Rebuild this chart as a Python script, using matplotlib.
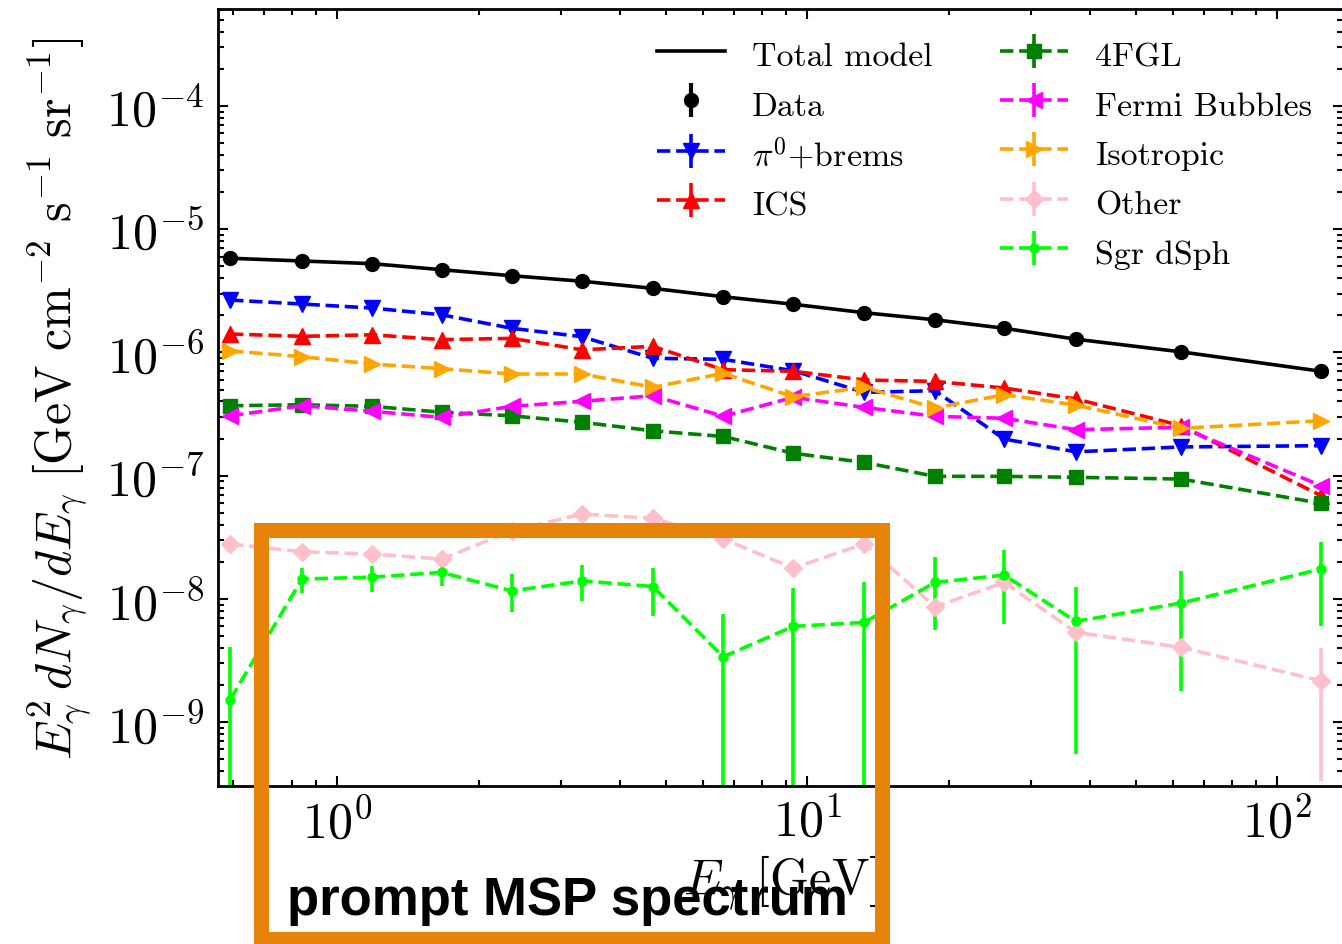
import matplotlib
matplotlib.use('Agg')
import matplotlib.pyplot as plt
import numpy as np
from matplotlib.ticker import LogLocator, NullFormatter
from matplotlib.patches import Rectangle
from matplotlib.lines import Line2D

plt.rcParams['font.family'] = 'serif'
plt.rcParams['font.serif'] = ['cmr10']
plt.rcParams['mathtext.fontset'] = 'cm'
plt.rcParams['axes.unicode_minus'] = False
plt.rcParams['axes.formatter.use_mathtext'] = True

# energy bins [GeV]
energy = [0.592, 0.842, 1.187, 1.668, 2.352, 3.322, 4.696, 6.628, 9.338,
          13.22, 18.70, 26.25, 37.30, 62.48, 124.0]

# E^2 dN/dE [GeV cm^-2 s^-1 sr^-1]
total = [5.81e-6, 5.52e-6, 5.25e-6, 4.69e-6, 4.19e-6, 3.78e-6, 3.31e-6, 2.83e-6,
         2.46e-6, 2.10e-6, 1.84e-6, 1.57e-6, 1.28e-6, 1.01e-6, 7.03e-7]
data = [5.81e-6, 5.52e-6, 5.25e-6, 4.69e-6, 4.19e-6, 3.78e-6, 3.31e-6, 2.83e-6,
        2.46e-6, 2.10e-6, 1.84e-6, 1.57e-6, 1.28e-6, 1.01e-6, 7.03e-7]
pi0_brems = [2.66e-6, 2.47e-6, 2.29e-6, 2.02e-6, 1.57e-6, 1.34e-6, 8.96e-7, 8.79e-7,
             7.10e-7, 4.74e-7, 4.89e-7, 1.98e-7, 1.56e-7, 1.71e-7, 1.75e-7]
ics = [1.41e-6, 1.35e-6, 1.39e-6, 1.27e-6, 1.30e-6, 1.05e-6, 1.12e-6, 7.24e-7,
       7.03e-7, 5.97e-7, 5.82e-7, 5.14e-7, 4.19e-7, 2.54e-7, 6.87e-8]
fgl = [3.69e-7, 3.76e-7, 3.65e-7, 3.27e-7, 3.06e-7, 2.71e-7, 2.31e-7, 2.08e-7,
       1.52e-7, 1.28e-7, 9.87e-8, 9.87e-8, 9.69e-8, 9.38e-8, 5.96e-8]
bubbles = [3.06e-7, 3.69e-7, 3.33e-7, 2.97e-7, 3.65e-7, 4.01e-7, 4.45e-7, 3.03e-7,
           4.32e-7, 3.58e-7, 3.03e-7, 2.92e-7, 2.36e-7, 2.47e-7, 8.28e-8]
isotropic = [1.03e-6, 9.23e-7, 8.05e-7, 7.38e-7, 6.68e-7, 6.68e-7, 5.21e-7, 6.77e-7,
             4.37e-7, 5.21e-7, 3.54e-7, 4.54e-7, 3.74e-7, 2.42e-7, 2.79e-7]
other = [2.79e-8, 2.41e-8, 2.31e-8, 2.10e-8, 3.57e-8, 4.88e-8, 4.50e-8, 3.06e-8,
         1.78e-8, 2.79e-8, 8.63e-9, 1.36e-8, 5.35e-9, 4.04e-9, 2.16e-9]
other_err_lo = [0] * 14 + [1.83e-9]
other_err_hi = [0] * 14 + [1.84e-9]
sgr = [1.52e-9, 1.45e-8, 1.50e-8, 1.64e-8, 1.16e-8, 1.40e-8, 1.26e-8, 3.39e-9,
       5.98e-9, 6.44e-9, 1.36e-8, 1.56e-8, 6.56e-9, 9.25e-9, 1.75e-8]
sgr_lo = [1e-11, 1.11e-8, 1.14e-8, 1.28e-8, 7.86e-9, 9.66e-9, 7.30e-9, 1e-11,
          1e-11, 1e-11, 5.61e-9, 6.24e-9, 5.50e-10, 1.78e-9, 6.05e-9]
sgr_hi = [4.04e-9, 1.78e-8, 1.84e-8, 1.80e-8, 1.59e-8, 1.88e-8, 1.77e-8, 7.53e-9,
          1.22e-8, 1.37e-8, 2.17e-8, 2.50e-8, 1.26e-8, 1.69e-8, 2.88e-8]

W, H = 1342, 945
fig = plt.figure(figsize=(W / 100, H / 100), dpi=100)
ax = fig.add_axes([218 / W, (H - 787) / H, 1125 / W, 777 / H])

zero = np.zeros(len(energy))
lw = 2.6

h_tot, = ax.plot(energy, total, '-', color='black', lw=2.6, label='Total model')
h_dat = ax.errorbar(energy, data, yerr=zero, fmt='o', color='black', ms=10,
                    elinewidth=3, label='Data')
h_pi = ax.errorbar(energy, pi0_brems, yerr=zero, fmt='v--', color='blue', ms=11.5,
                   lw=lw, elinewidth=lw, label=r'$\pi^0$+brems')
h_ics = ax.errorbar(energy, ics, yerr=zero, fmt='^--', color='red', ms=11.5,
                    lw=lw, elinewidth=lw, label='ICS')
h_fgl = ax.errorbar(energy, fgl, yerr=zero, fmt='s--', color='green', ms=9.5,
                    lw=lw, elinewidth=lw, label='4FGL')
h_fb = ax.errorbar(energy, bubbles, yerr=zero, fmt='<--', color='magenta', ms=11.5,
                   lw=lw, elinewidth=lw, label='Fermi Bubbles')
h_iso = ax.errorbar(energy, isotropic, yerr=zero, fmt='>--', color='orange', ms=11.5,
                    lw=lw, elinewidth=lw, label='Isotropic')
h_oth = ax.errorbar(energy, other, yerr=[other_err_lo, other_err_hi], fmt='D--',
                    color='pink', ms=9.5, lw=lw, elinewidth=lw, label='Other')
sgr_a = np.array(sgr)
h_sgr = ax.errorbar(energy, sgr, yerr=[sgr_a - np.array(sgr_lo), np.array(sgr_hi) - sgr_a],
                    fmt='o--', color='lime', ms=6.5, lw=lw, elinewidth=lw,
                    label='Sgr dSph')

ax.set_xscale('log')
ax.set_yscale('log')
ax.set_xlim(0.558, 138)
ax.set_ylim(3.03e-10, 6.12e-4)

ax.yaxis.set_major_locator(LogLocator(base=10, numticks=20))
ax.yaxis.set_minor_locator(LogLocator(base=10, subs=np.arange(2, 10), numticks=20))
ax.yaxis.set_minor_formatter(NullFormatter())
ax.xaxis.set_minor_formatter(NullFormatter())

ax.tick_params(which='both', direction='in', top=True, right=True, width=1.5)
ax.tick_params(which='major', length=7, labelsize=36)
ax.tick_params(which='minor', length=4)
ax.tick_params(axis='y', which='major', pad=10)
ax.tick_params(axis='x', which='major', pad=8)
for s in ax.spines.values():
    s.set_linewidth(2)

ax.set_xlabel(r'$E_\gamma\ [\mathrm{GeV}]$', fontsize=36, labelpad=4)
ax.set_ylabel(r'$E_\gamma^2\, dN_\gamma/dE_\gamma\ [\mathrm{GeV\ cm^{-2}\ s^{-1}\ sr^{-1}}]$',
              fontsize=36, labelpad=8)

blank = Line2D([], [], alpha=0)
handles = [h_tot, h_dat, h_pi, h_ics, blank, h_fgl, h_fb, h_iso, h_oth, h_sgr]
labels = ['Total model', 'Data', r'$\pi^0$+brems', 'ICS', '',
          '4FGL', 'Fermi Bubbles', 'Isotropic', 'Other', 'Sgr dSph']
fig.legend(handles, labels, ncol=2, loc='upper left',
           bbox_to_anchor=(657 / W, (H - 37) / H), frameon=False, fontsize=24.4,
           borderpad=0, borderaxespad=0, handlelength=2.0, handletextpad=0.8,
           handleheight=1.25, columnspacing=2.0, labelspacing=0.4)

box = Rectangle((261 / W, (H - 940) / H), 621 / W, 409 / H, transform=fig.transFigure,
                fill=False, edgecolor='#E8830A', linewidth=10.8, joinstyle='miter',
                clip_on=False)
fig.add_artist(box)
fig.text(287 / W, (H - 915) / H, 'prompt MSP spectrum', family='Liberation Sans',
         weight='bold', fontsize=38, ha='left', va='baseline')

plt.savefig('out.png', dpi=100)
